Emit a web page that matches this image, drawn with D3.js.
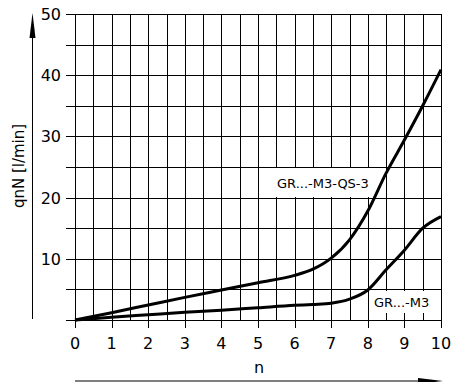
<!DOCTYPE html>
<html>
<head>
<meta charset="utf-8">
<script src="https://cdn.jsdelivr.net/npm/d3@7"></script>
<style>
  body { margin: 0; background: #fff; }
  svg { display: block; }
  text { font-family: "DejaVu Sans", sans-serif; fill: #000; }
</style>
</head>
<body>
<svg id="chart" width="453" height="382"></svg>
<script>
// values
let nValues = [0, 1, 2, 3, 4, 5, 6, 6.5, 7, 7.5, 8, 8.5, 9, 9.5, 10];
let qsValues = [0, 1.2, 2.45, 3.7, 4.9, 6.1, 7.3, 8.3, 10.1, 13.1, 17.8, 24, 29.4, 35, 40.9];
let m3Values = [0, 0.45, 0.85, 1.25, 1.6, 2.0, 2.4, 2.55, 2.75, 3.4, 4.9, 8.2, 11.4, 15.0, 16.9];
let xTicks = [0, 1, 2, 3, 4, 5, 6, 7, 8, 9, 10];
let yTicks = [10, 20, 30, 40, 50];
let seriesLabels = ["GR...-M3-QS-3", "GR...-M3"];

let chart = d3.select("#chart");

let x = d3.scaleLinear().domain([0, 10]).range([75, 441]);
let y = d3.scaleLinear().domain([0, 50]).range([320, 14]);

let grid = chart.append("g").attr("class", "grid")
  .attr("stroke", "#000").attr("stroke-width", 1).attr("shape-rendering", "crispEdges");

// vertical grid every 0.5, integer ones run down as ticks
grid.selectAll("line.v")
  .data(d3.range(0, 10.01, 0.5))
  .enter().append("line")
  .attr("class", "v")
  .attr("x1", d => Math.round(x(d)) + 0.5)
  .attr("x2", d => Math.round(x(d)) + 0.5)
  .attr("y1", y(50))
  .attr("y2", d => Number.isInteger(d) ? y(0) + 8 : y(0));

// horizontal grid every 5, sticking out left as ticks
grid.selectAll("line.h")
  .data(d3.range(0, 50.01, 5))
  .enter().append("line")
  .attr("class", "h")
  .attr("x1", 66)
  .attr("x2", x(10) + 1)
  .attr("y1", d => Math.round(y(d)) + 0.5)
  .attr("y2", d => Math.round(y(d)) + 0.5);

// curves
let line = d3.line()
  .x((d, i) => x(nValues[i]))
  .y(d => y(d))
  .curve(d3.curveMonotoneX);

[qsValues, m3Values].forEach(vals => {
  chart.append("path")
    .datum(vals)
    .attr("d", line)
    .attr("fill", "none")
    .attr("stroke", "#000")
    .attr("stroke-width", 3);
});

// series labels on white boxes
let labels = [
  {text: seriesLabels[0], x: 277, y: 188, box: [265, 168, 108, 29]},
  {text: seriesLabels[1], x: 374, y: 307, box: [371, 291, 66, 22]}
];
labels.forEach(l => {
  chart.append("rect")
    .attr("x", l.box[0]).attr("y", l.box[1])
    .attr("width", l.box[2]).attr("height", l.box[3])
    .attr("fill", "#fff");
  chart.append("text")
    .attr("x", l.x).attr("y", l.y)
    .attr("font-size", 13)
    .text(l.text);
});

// tick labels
chart.selectAll("text.xt")
  .data(xTicks)
  .enter().append("text")
  .attr("class", "xt")
  .attr("x", d => x(d))
  .attr("y", 349)
  .attr("text-anchor", "middle")
  .attr("font-size", 16)
  .text(d => d);

chart.selectAll("text.yt")
  .data(yTicks)
  .enter().append("text")
  .attr("class", "yt")
  .attr("x", 61)
  .attr("y", d => y(d) + 6)
  .attr("text-anchor", "end")
  .attr("font-size", 16)
  .text(d => d);

// axis arrows
chart.append("line")
  .attr("x1", 32.5).attr("x2", 32.5).attr("y1", 30).attr("y2", 319)
  .attr("stroke", "#000").attr("stroke-width", 1);
chart.append("path")
  .attr("d", "M32.5,13 L35.5,38 L29.5,38 Z")
  .attr("fill", "#000");

chart.append("line")
  .attr("x1", x(0)).attr("x2", 425).attr("y1", 381).attr("y2", 381)
  .attr("stroke", "#000").attr("stroke-width", 1.2);
chart.append("path")
  .attr("d", "M443,381 L418,378 L418,384 Z")
  .attr("fill", "#000");

// axis titles
chart.append("text")
  .attr("transform", "translate(24,166) rotate(-90)")
  .attr("text-anchor", "middle")
  .attr("font-size", 15)
  .text("qnN [l/min]");

chart.append("text")
  .attr("x", 259).attr("y", 373)
  .attr("text-anchor", "middle")
  .attr("font-size", 16)
  .text("n");
</script>
</body>
</html>
